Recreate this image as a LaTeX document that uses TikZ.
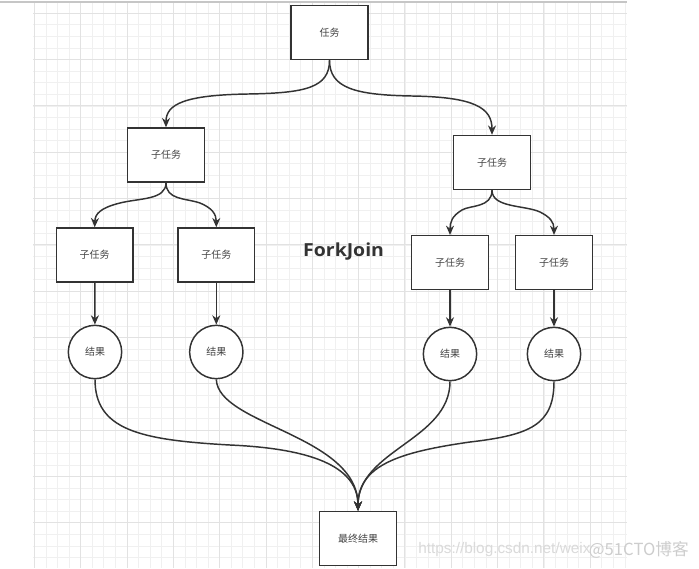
\documentclass[tikz,border=0pt]{standalone}
\usepackage{fontspec}
\newfontfamily\cjk{Noto Sans CJK SC}
\newfontfamily\fj[FakeStretch=1.08]{Open Sans}
\newfontfamily\wmfont{Liberation Sans}
\usetikzlibrary{arrows.meta}
\definecolor{linec}{HTML}{333333}
\definecolor{txtc}{HTML}{444444}
\definecolor{gminor}{HTML}{F0F0F0}
\definecolor{gmajor}{HTML}{E2E2E2}
\definecolor{wm}{HTML}{DADADA}
\definecolor{wmb}{HTML}{CDCDCD}
\begin{document}
\begin{tikzpicture}[x=0.75pt,y=-0.75pt,
  box/.style={draw=linec, line width=1.1pt, fill=white, minimum width=57.5pt, minimum height=40.5pt, inner sep=0pt, font=\cjk\fontsize{7.5}{9}\selectfont, text=txtc},
  res/.style={circle, draw=linec, line width=1.1pt, fill=white, minimum size=40pt, inner sep=0pt, font=\cjk\fontsize{7.5}{9}\selectfont, text=txtc},
  conn/.style={draw=linec, line width=1.1pt, -{Stealth[length=7pt,width=6pt]}},
  gridminor/.style={draw=gminor, line width=0.6pt},
  gridmajor/.style={draw=gmajor, line width=0.7pt},
]
\useasboundingbox (0,0) rectangle (699,568);
\fill[white] (0,0) rectangle (699,568);
% grid
\begin{scope}
\clip (33,2) rectangle (627,568);
\foreach \i in {0,...,51} { \pgfmathsetmacro\xx{34.4+11.58*\i} \draw[gridminor] (\xx,2) -- (\xx,568); }
\foreach \j in {0,...,49} { \pgfmathsetmacro\yy{1.72+11.58*\j} \draw[gridminor] (33,\yy) -- (627,\yy); }
\foreach \i in {0,...,13} { \pgfmathsetmacro\xx{34.4+46.32*\i} \draw[gridmajor] (\xx,2) -- (\xx,568); }
\foreach \j in {0,...,12} { \pgfmathsetmacro\yy{13.3+46.32*\j} \draw[gridmajor] (33,\yy) -- (627,\yy); }
\end{scope}
\draw[draw=gray!45, line width=0.8pt] (0,2) -- (627,2);

% nodes
\node[box] (t) at (329.5,32.5) {任务};
\node[box] (l1) at (166,155) {子任务};
\node[box] (r1) at (492,162.5) {子任务};
\node[box] (ll) at (94.7,255) {子任务};
\node[box] (lr) at (216.3,255) {子任务};
\node[box] (rl) at (450,262.7) {子任务};
\node[box] (rr) at (554,262.7) {子任务};
\node[res] (cll) at (95,352) {结果};
\node[res] (clr) at (216.3,352) {结果};
\node[res] (crl) at (450,354) {结果};
\node[res] (crr) at (554,354) {结果};
\node[box] (f) at (358,538.5) {最终结果};
\node[font=\fj\bfseries\fontsize{13.5}{16}\selectfont, text=linec] (fjt) at (343.6,251.5) {ForkJoin};

% connectors
\draw[conn] (t.south) .. controls (329.5,88) and (305,93) .. (248,94) .. controls (185,95) and (166,104) .. (l1.north);
\draw[conn] (t.south) .. controls (329.5,88) and (355,95) .. (412,96) .. controls (475,97) and (492,108) .. (r1.north);
\draw[conn] (l1.south) .. controls (166,200) and (140,198) .. (120,203) .. controls (100,208) and (95,214) .. (ll.north);
\draw[conn] (l1.south) .. controls (166,200) and (185,198) .. (200,203) .. controls (212,208) and (216.3,214) .. (lr.north);
\draw[conn] (r1.south) .. controls (492,208) and (470,205) .. (462,210) .. controls (452,216) and (450,222) .. (rl.north);
\draw[conn] (r1.south) .. controls (492,208) and (525,205) .. (540,212) .. controls (550,217) and (554,222) .. (rr.north);
\draw[conn] (ll) -- (cll);
\draw[conn] (lr) -- (clr);
\draw[conn] (rl) -- (crl);
\draw[conn] (rr) -- (crr);
\draw[conn] (cll.south) .. controls (95,430) and (140,440) .. (230,445) .. controls (320,449) and (358,470) .. (f.north);
\draw[conn] (clr.south) .. controls (218,425) and (358,435) .. (f.north);
\draw[conn] (crl.south) .. controls (450,440) and (358,450) .. (f.north);
\draw[conn] (crr.south) .. controls (554,425) and (530,435) .. (470,442) .. controls (400,452) and (358,465) .. (f.north);

% watermark
\node[font=\wmfont\fontsize{11.5}{13}\selectfont, text=wm, anchor=west, inner sep=0pt] (wm1) at (418,550) {https://blog.csdn.net/weix};
\node[font=\cjk\fontsize{12.5}{14}\selectfont, text=wmb, anchor=east, inner sep=0pt] (wm2) at (689,550) {@51CTO博客};
\end{tikzpicture}
\end{document}
